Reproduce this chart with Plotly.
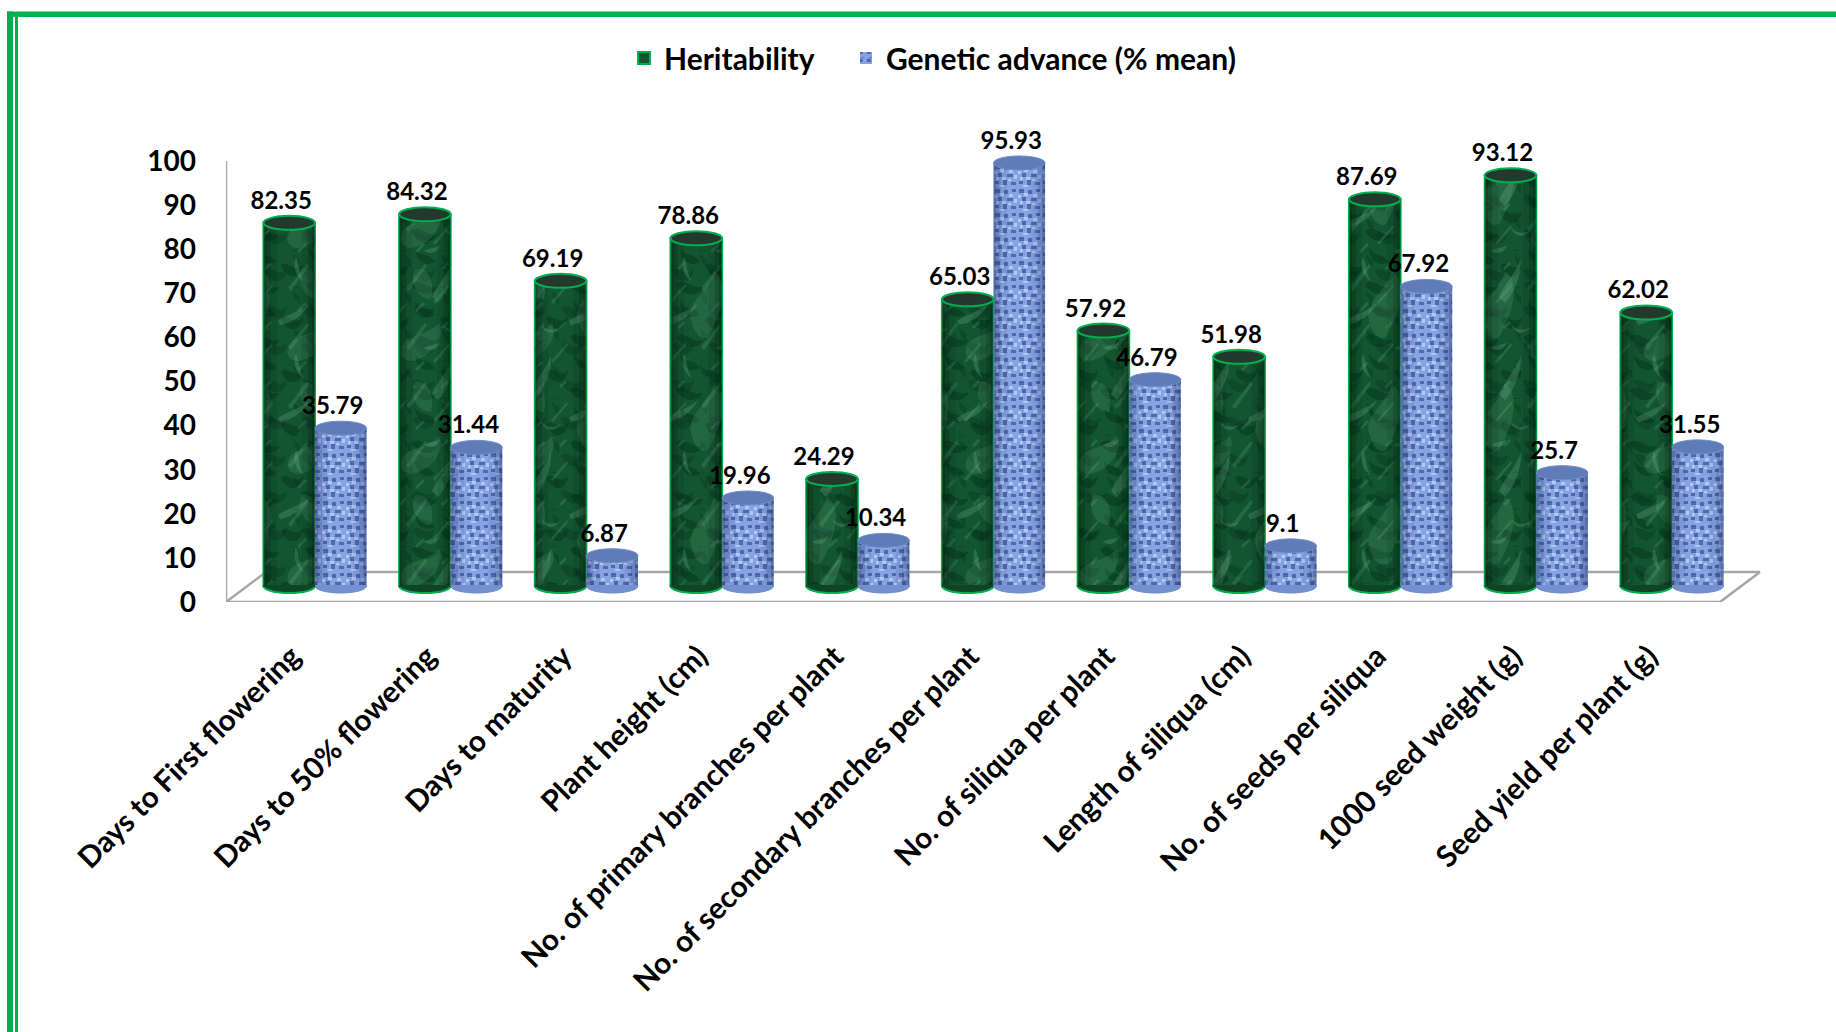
import plotly.graph_objects as go

traits = ["Days to First flowering", "Days to 50% flowering", "Days to maturity",
          "Plant height (cm)", "No. of primary branches per plant",
          "No. of secondary branches per plant", "No. of siliqua per plant",
          "Length of siliqua (cm)", "No. of seeds per siliqua",
          "1000 seed weight (g)", "Seed yield per plant (g)"]
heritability = [82.35, 84.32, 69.19, 78.86, 24.29, 65.03, 57.92, 51.98, 87.69, 93.12, 62.02]
genetic_advance = [35.79, 31.44, 6.87, 19.96, 10.34, 95.93, 46.79, 9.1, 67.92, 25.7, 31.55]
y_ticks = list(range(0, 101, 10))

# page geometry, in pixels
W, H = 1836, 1032
M_L, M_R, M_T, M_B = 226, 60, 140, 430
PX_PER_X = 135.7
PX_PER_Y = 4.41
plot_w, plot_h = W - M_L - M_R, H - M_T - M_B
x_lo = (M_L - 315) / PX_PER_X
x_hi = x_lo + plot_w / PX_PER_X
y_hi = plot_h / PX_PER_Y

# pseudo-3D construction
FONT = "Lato"
GREEN_EDGE = "#00b050"
GREEN_BODY = "#125530"
BLUE_BODY = "#86a3e2"
AXIS_GREY = "#a6a6a6"
BAR_W = 0.38
LIFT = 16 / PX_PER_Y                # columns stand on the middle of the floor
CAP_H = 7 / PX_PER_Y                # half height of the elliptical ends
DEPTH_X, DEPTH_Y = 40 / PX_PER_X, 30 / PX_PER_Y
FLOOR_RIGHT = x_lo + (1720 - 226) / PX_PER_X
LABEL_GAP = 20 / PX_PER_Y
LABEL_SHIFT = 8 / PX_PER_X
TICK_SHIFT = 0.17
STRIPS = [(0, .06, .45), (.06, .14, .28), (.14, .26, .10),
          (.74, .86, .10), (.86, .94, .28), (.94, 1, .45)]

# surface textures of the columns
CLOUDS = ("M14,70C6,50 30,40 36,18C52,30 44,60 30,84C24,88 16,80 14,70Z "
          "M62,96C66,80 88,84 100,70C108,86 88,108 70,108C64,106 60,102 62,96Z "
          "M76,16C90,14 96,30 92,46C80,46 70,32 76,16Z")
WISPS_LIGHT = ("M12,60C20,44 26,40 34,22C34,36 30,52 18,66Z M52,84C60,78 72,76 84,66C78,78 66,86 54,88Z "
               "M70,20C74,28 72,36 78,44C70,40 66,28 70,20Z M24,88C30,94 38,94 44,90C38,98 28,98 24,88Z "
               "M4,14C10,10 16,12 20,8C18,16 10,18 4,14Z")
WISPS_FINE = ("M3,30L22,6L24,8L6,33Z M30,44L46,26L47,28L32,46Z M12,52L20,44L22,46L14,54Z "
              "M38,10L44,4L46,6L40,12Z")
PATCHES_DARK = ("M2,20C8,12 14,28 24,18C22,34 8,34 2,20Z M30,2C36,12 44,6 50,16C40,22 30,14 30,2Z "
                "M26,38C36,30 42,46 54,40C48,52 32,50 26,38Z")
WEAVE_DARK = ("M1,1h5v4h-5Z M10,2h4v4h-4Z M18,1h4v3h-4Z M4,9h4v4h-4Z M13,10h6v3h-6Z "
              "M1,17h4v3h-4Z M9,16h4v5h-4Z M17,18h5v3h-5Z")
WEAVE_LIGHT = ("M6,5h4v3h-4Z M15,6h4v3h-4Z M0,7h3v3h-3Z M8,13h4v3h-4Z M20,11h3v4h-3Z "
               "M2,13h3v3h-3Z M14,15h3v2h-3Z M5,21h5v2h-5Z")

idx = list(range(len(traits)))
fig = go.Figure()


def column(values, offset, name, legend, base_color, line, layers, shade):
    fig.add_trace(go.Bar(
        x=idx, y=values, base=LIFT, width=BAR_W, offset=offset, name=name, legend=legend,
        marker=dict(color=base_color, line=line, pattern=layers[0]),
        cliponaxis=False, legendgroup=name))
    for pattern in layers[1:]:
        fig.add_trace(go.Bar(
            x=idx, y=values, base=LIFT, width=BAR_W, offset=offset, showlegend=False,
            marker=dict(color="rgba(0,0,0,0)", pattern=pattern, line_width=0),
            cliponaxis=False, legendgroup=name))
    for a, b, alpha in STRIPS:
        fig.add_trace(go.Bar(
            x=idx, y=values, base=LIFT, width=BAR_W * (b - a), offset=offset + BAR_W * a,
            showlegend=False, marker=dict(color=f"rgba({shade},{alpha})", line_width=0),
            cliponaxis=False, legendgroup=name))


green_layers = [
    dict(path=PATCHES_DARK, fgcolor="#03301a", bgcolor=GREEN_BODY, fgopacity=.45, size=53, solidity=.5),
    dict(path=PATCHES_DARK, fgcolor="#03301a", bgcolor="rgba(0,0,0,0)", fgopacity=.30, size=37, solidity=.5),
    dict(path=CLOUDS, fgcolor="#8fd4ad", bgcolor="rgba(0,0,0,0)", fgopacity=.14, size=113, solidity=.5),
    dict(path=WISPS_LIGHT, fgcolor="#8fd4ad", bgcolor="rgba(0,0,0,0)", fgopacity=.20, size=97, solidity=.5),
    dict(path=WISPS_FINE, fgcolor="#6fbf92", bgcolor="rgba(0,0,0,0)", fgopacity=.20, size=59, solidity=.5),
]
blue_layers = [
    dict(path=WEAVE_DARK, fgcolor="#2a478f", bgcolor=BLUE_BODY, fgopacity=.62, size=24, solidity=.5),
    dict(path=WEAVE_LIGHT, fgcolor="#c6d7f9", bgcolor="rgba(0,0,0,0)", fgopacity=.7, size=24, solidity=.5),
]
column(heritability, -BAR_W, "Heritability", "legend", GREEN_BODY,
       dict(color=GREEN_EDGE, width=2), green_layers, "0,20,8")
column(genetic_advance, 0, "Genetic advance (% mean)", "legend2", BLUE_BODY,
       dict(color="#5b78b8", width=0), blue_layers, "30,50,100")

# value labels above each column
for values, centre in ((heritability, -BAR_W / 2), (genetic_advance, BAR_W / 2)):
    fig.add_trace(go.Scatter(
        x=[i + centre - LABEL_SHIFT for i in idx],
        y=[v + LIFT + LABEL_GAP for v in values],
        text=[f"{v:g}" for v in values], mode="text", textposition="middle center",
        textfont=dict(family=FONT, size=24, color="black", weight="bold"),
        showlegend=False, cliponaxis=False, hoverinfo="skip"))


def px_x(p):
    return (p - M_L) / plot_w


def px_y(p):
    return (H - M_B - p) / plot_h


shapes = []

# floor and wall of the chart box
floor = [(x_lo, 0, FLOOR_RIGHT, 0), (FLOOR_RIGHT, 0, FLOOR_RIGHT + DEPTH_X, DEPTH_Y),
         (x_lo + DEPTH_X, DEPTH_Y, FLOOR_RIGHT + DEPTH_X, DEPTH_Y),
         (x_lo, 0, x_lo + DEPTH_X, DEPTH_Y), (x_lo, 0, x_lo, 100)]
for x0, y0, x1, y1 in floor:
    shapes.append(dict(type="line", layer="below", xref="x", yref="y", x0=x0, y0=y0, x1=x1, y1=y1,
                       line=dict(color=AXIS_GREY, width=2.5)))


def caps(values, offset, top_fill, foot_fill, edge, edge_w):
    for i, v in zip(idx, values):
        shapes.append(dict(type="circle", layer="below", xref="x", yref="y",
                           x0=i + offset, x1=i + offset + BAR_W,
                           y0=LIFT - CAP_H, y1=LIFT + CAP_H,
                           fillcolor=foot_fill, line=dict(color=edge, width=edge_w)))
        shapes.append(dict(type="line", layer="above", xref="x", yref="y",
                           x0=i + offset, x1=i + offset + BAR_W, y0=LIFT, y1=LIFT,
                           line=dict(color=foot_fill, width=2)))
        shapes.append(dict(type="circle", layer="above", xref="x", yref="y",
                           x0=i + offset, x1=i + offset + BAR_W,
                           y0=LIFT + v - CAP_H, y1=LIFT + v + CAP_H,
                           fillcolor=top_fill, line=dict(color=edge, width=edge_w)))


caps(heritability, -BAR_W, "#24392d", "#0f4426", GREEN_EDGE, 2)
caps(genetic_advance, 0, "#5f7cb9", "#7391d0", "#6f8cc8", 1)

# double green page border
for x0, y0, x1, y1 in ((7, 11.5, W, 17), (7, 11.5, 13, H), (15, 17, 18, H)):
    shapes.append(dict(type="rect", layer="above", xref="paper", yref="paper",
                       x0=px_x(x0), x1=px_x(x1), y0=px_y(y0), y1=px_y(y1),
                       fillcolor=GREEN_EDGE, line_width=0))

legend_style = dict(orientation="h", xanchor="left", y=px_y(58), yanchor="middle",
                    font=dict(family=FONT, size=30, weight="bold"), itemwidth=30,
                    bgcolor="rgba(0,0,0,0)")

fig.update_layout(
    width=W, height=H, margin=dict(l=M_L, r=M_R, t=M_T, b=M_B, autoexpand=False),
    paper_bgcolor="white", plot_bgcolor="rgba(0,0,0,0)", barmode="overlay", shapes=shapes,
    font=dict(family=FONT, color="black"),
    xaxis=dict(range=[x_lo, x_hi], tickmode="array", tickvals=[i - TICK_SHIFT for i in idx],
               ticktext=traits, tickangle=-45, ticks="", showgrid=False, zeroline=False,
               showline=False, ticklabelstandoff=30,
               tickfont=dict(family=FONT, size=29.7, weight="bold")),
    yaxis=dict(range=[0, y_hi], tickmode="array", tickvals=y_ticks, ticks="", showgrid=False,
               zeroline=False, showline=False, ticklabelstandoff=29,
               tickfont=dict(family=FONT, size=28, weight="bold")),
    legend=dict(x=px_x(624), **legend_style),
    legend2=dict(x=px_x(846), **legend_style),
)

fig.write_html("out.html")
